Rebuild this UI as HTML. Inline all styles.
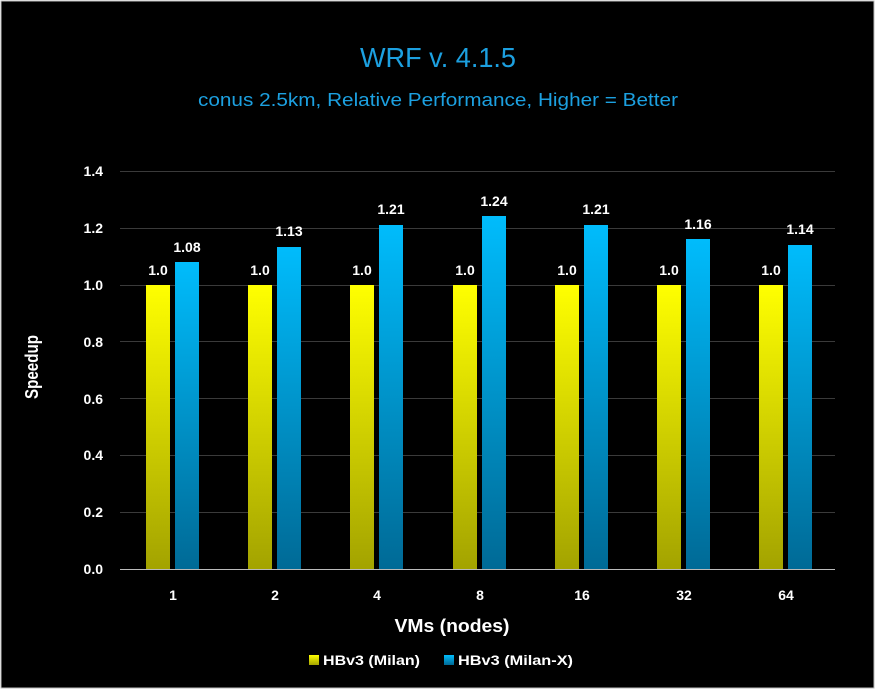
<!DOCTYPE html>
<html><head><style>body{margin:0;background:#fff}svg{display:block}</style></head>
<body>
<svg width="876" height="693" xmlns="http://www.w3.org/2000/svg" font-family="Liberation Sans, sans-serif">
<defs>
<linearGradient id="gy" x1="0" y1="0" x2="0" y2="1"><stop offset="0" stop-color="#ffff00"/><stop offset="1" stop-color="#a3a300"/></linearGradient>
<linearGradient id="gb" x1="0" y1="0" x2="0" y2="1"><stop offset="0" stop-color="#00bcfc"/><stop offset="1" stop-color="#006a96"/></linearGradient>
</defs>
<rect x="0" y="0" width="876" height="693" fill="#fff"/>
<rect x="1" y="1" width="873" height="687" fill="#000" stroke="#bbb" stroke-width="1"/>
<text x="438" y="67" text-anchor="middle" fill="#1ca0e0" font-size="28" textLength="156" lengthAdjust="spacingAndGlyphs">WRF v. 4.1.5</text>
<text x="438" y="106" text-anchor="middle" fill="#1ca0e0" font-size="18" textLength="480" lengthAdjust="spacingAndGlyphs">conus 2.5km, Relative Performance, Higher = Better</text>
<g stroke="#3a3a3a" stroke-width="1">
<line x1="120" x2="835" y1="171.5" y2="171.5"/>
<line x1="120" x2="835" y1="228.5" y2="228.5"/>
<line x1="120" x2="835" y1="285.5" y2="285.5"/>
<line x1="120" x2="835" y1="341.5" y2="341.5"/>
<line x1="120" x2="835" y1="398.5" y2="398.5"/>
<line x1="120" x2="835" y1="455.5" y2="455.5"/>
<line x1="120" x2="835" y1="512.5" y2="512.5"/>
</g>
<g fill="#fff" font-size="14" font-weight="bold" text-anchor="end">
<text x="103" y="176">1.4</text><text x="103" y="233">1.2</text><text x="103" y="290">1.0</text>
<text x="103" y="347">0.8</text><text x="103" y="404">0.6</text><text x="103" y="460">0.4</text>
<text x="103" y="517">0.2</text><text x="103" y="574">0.0</text>
</g>
<g id="bars">
<rect x="146" y="285" width="24" height="284" fill="url(#gy)"/><rect x="175" y="262" width="24" height="307" fill="url(#gb)"/>
<rect x="248" y="285" width="24" height="284" fill="url(#gy)"/><rect x="277" y="247" width="24" height="322" fill="url(#gb)"/>
<rect x="350" y="285" width="24" height="284" fill="url(#gy)"/><rect x="379" y="225" width="24" height="344" fill="url(#gb)"/>
<rect x="453" y="285" width="24" height="284" fill="url(#gy)"/><rect x="482" y="216" width="24" height="353" fill="url(#gb)"/>
<rect x="555" y="285" width="24" height="284" fill="url(#gy)"/><rect x="584" y="225" width="24" height="344" fill="url(#gb)"/>
<rect x="657" y="285" width="24" height="284" fill="url(#gy)"/><rect x="686" y="239" width="24" height="330" fill="url(#gb)"/>
<rect x="759" y="285" width="24" height="284" fill="url(#gy)"/><rect x="788" y="245" width="24" height="324" fill="url(#gb)"/>
</g>
<line x1="120" x2="835" y1="569.5" y2="569.5" stroke="#bbb"/>
<g fill="#fff" font-size="14" font-weight="bold" text-anchor="middle">
<text x="158" y="275">1.0</text><text x="187" y="252">1.08</text>
<text x="260" y="275">1.0</text><text x="289" y="236">1.13</text>
<text x="362" y="275">1.0</text><text x="391" y="214">1.21</text>
<text x="465" y="275">1.0</text><text x="494" y="206">1.24</text>
<text x="567" y="275">1.0</text><text x="596" y="214">1.21</text>
<text x="669" y="275">1.0</text><text x="698" y="229">1.16</text>
<text x="771" y="275">1.0</text><text x="800" y="234">1.14</text>
<text x="173" y="600">1</text><text x="275" y="600">2</text><text x="377" y="600">4</text>
<text x="480" y="600">8</text><text x="582" y="600">16</text><text x="684" y="600">32</text><text x="786" y="600">64</text>
</g>
<text x="452" y="632" text-anchor="middle" fill="#fff" font-size="18" font-weight="bold" textLength="115" lengthAdjust="spacingAndGlyphs">VMs (nodes)</text>
<text transform="translate(38,367) rotate(-90)" text-anchor="middle" fill="#fff" font-size="18" font-weight="bold" textLength="64" lengthAdjust="spacingAndGlyphs">Speedup</text>
<rect x="309" y="655" width="10" height="10" fill="url(#gy)"/>
<text x="323" y="665" fill="#fff" font-size="14" font-weight="bold" textLength="97" lengthAdjust="spacingAndGlyphs">HBv3 (Milan)</text>
<rect x="444" y="655" width="10" height="10" fill="url(#gb)"/>
<text x="458" y="665" fill="#fff" font-size="14" font-weight="bold" textLength="115" lengthAdjust="spacingAndGlyphs">HBv3 (Milan-X)</text>
</svg>
</body></html>
